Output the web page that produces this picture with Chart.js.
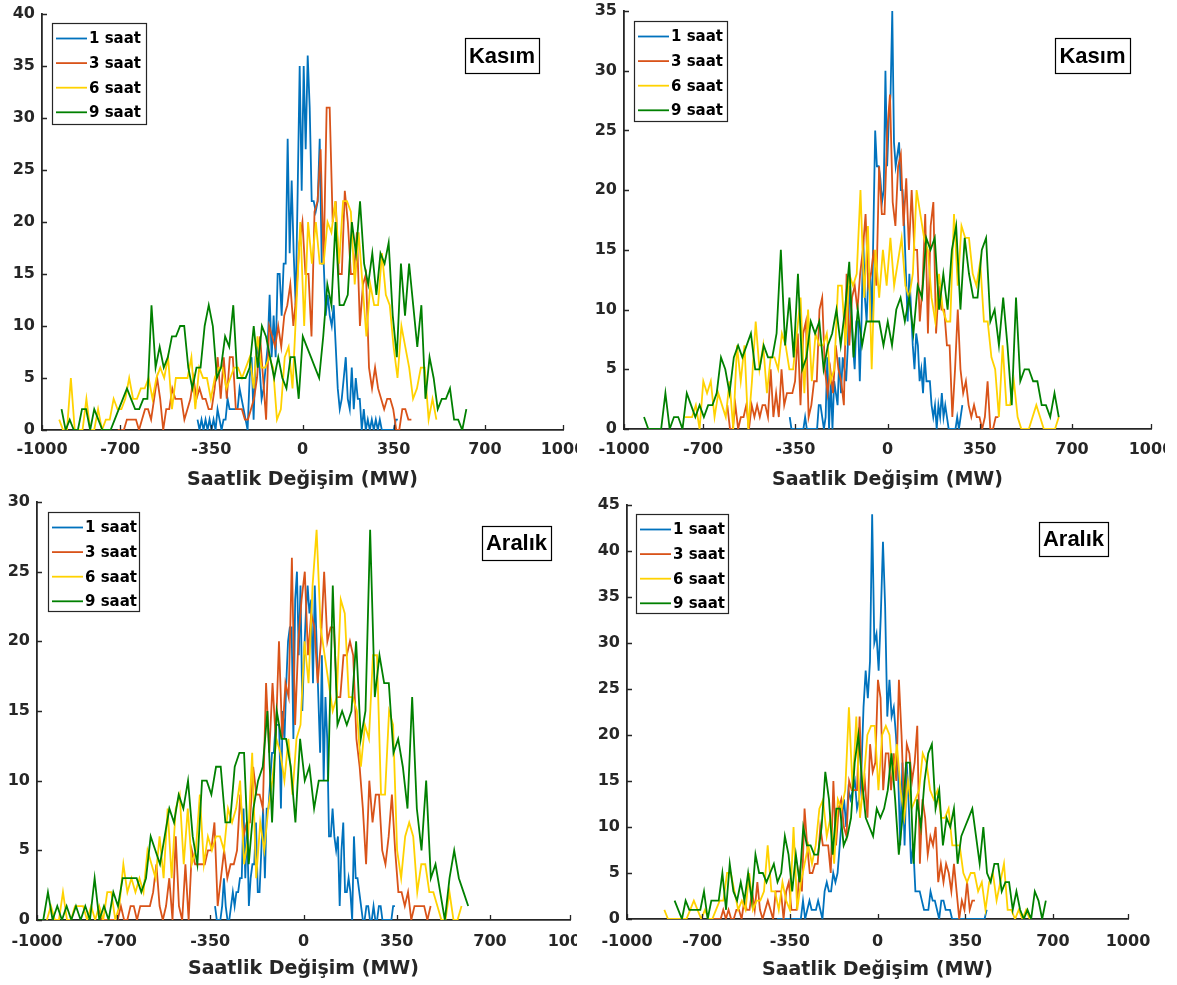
<!DOCTYPE html>
<html>
<head>
<meta charset="utf-8">
<script src="https://cdn.jsdelivr.net/npm/chart.js@4.4.1/dist/chart.umd.min.js"></script>
<style>
  body { margin: 0; background: #fff; width: 1177px; height: 985px; overflow: hidden; position: relative; }
  .panel { position: absolute; overflow: hidden; }
  .panel canvas { position: absolute; left: 0; top: 0; }
</style>
</head>
<body>
<div class="panel" style="left:0px;top:0px;width:577px;height:492px"><canvas id="c1"></canvas></div>
<div class="panel" style="left:580px;top:0px;width:585px;height:492px"><canvas id="c2"></canvas></div>
<div class="panel" style="left:0px;top:492px;width:577px;height:493px"><canvas id="c3"></canvas></div>
<div class="panel" style="left:580px;top:492px;width:597px;height:493px"><canvas id="c4"></canvas></div>
<script>
// --- data: histogram counts per series ---
const seriesLabels = ['1 saat', '3 saat', '6 saat', '9 saat'];
const xTicks = [-1000, -700, -350, 0, 350, 700, 1000];

// Kasım (top left) - [first bin, last bin] in MW
const tlRanges = [[-403, 366], [-709, 418], [-934, 514], [-925, 629]];
const tl1 = [1,0,1,0,1,0,1,0,1,0, 2,1,0,1,1,3,2,2,2,2, 2,4,3,2,1,0,5,7,1,7, 8,6,3,4,6,8,13,7,11,7,
  15,15,11,16,16,28,17,24,17,12, 23,
  35,23,35,27,36,31,22,22,21,22, 28,16,16,11,13,11,10,12,8,4, 2,3,5,7,3,2,6,2,5,3,
  3,0,2,0,1,0,1,0,1,0, 1,0,0,0,0,0,0,0,1,1];
const tl3 = [0,0,0,1,1,1,1,0,1,2, 2,1,3,5,3,0,2,2,4,3, 3,3,1,2,3,5,3,4,3,3, 2,2,4,7,3,7,3,7,7,2,
  2,2,1,1,2,3,5,9,5,1, 10,9,8,10,8,11,12,14,10,13, 18,
  20,15,15,9,21,22,27,16,31,31, 20,22,15,15,23,20,15,15,19,10, 14,15,6,4,6,4,3,2,3,3,
  2,0,0,2,2,1,1];
const tl6 = [1,0,0,5,0,0,0,3,0,0, 2,0,1,1,3,2,2,3,5,3, 3,4,4,5,3,5,6,5,7,2, 5,5,5,5,7,2,6,5,5,3,
  5,6,6,4,5,6,6,5,6,7, 4,9,6,6,7,6,1,2,7,8, 4,12,
  20,10,20,16,20,16,16,20,19,22, 16,22,22,21,14,19,14,9,14,12, 12,17,13,12,8,5,10,8,6,3,
  4,6,6,1,3,1];
const tl9 = [2,0,1,0,0,2,2,0,2,1, 0,0,0,1,2,3,4,3,2,2, 3,3,12,6,8,6,7,9,9,10, 10,6,4,6,6,10,12,10,5,6,
  9,8,12,5,5,5,6,10,6,10, 9,7,5,7,5,4,7,7,3,
  9,8,7,6,5,9,14,12,20,12, 12,13,20,17,22,16,14,17,13,17, 16,18,11,7,16,11,16,12,8,12,
  3,7,5,2,3,3,4,1,1,0, 2];

// Kasım (top right)
const trRanges = [[-371, 284], [-608, 421], [-770, 650], [-924, 650]];
const tr1 = [1,0,0,0,0,0,0,0,0,1, 0,0,0,0,0,0,0,2,2,1, 0,1,6,0,4,0,4,3,2,6, 3,6,5,4,7,12,10,7,5,9,
  9,4,9,16,11,9,13,13,9,17, 25,22,22,21,19,20,30,22, 26,28,35,24,22,23,
  24,20,20,17,13,9,13,10,7,5, 8,7,4,5,3,6,4,4,4,2, 1,2,0,2,1,3,1,2,1,0, 0,0,0,0,1,0,1,2];
const tr3 = [2,0,0,2,0,1,1,2,0,2, 1,2,1,2,2,1,5,1,3,1, 5,2,3,3,3,4,8,2,8,9, 1,2,4,4,10,11,5,3,5,3,
  7,5,4,2,13,7,11,12,10,13, 15,18,12,13,15,12,22,18,18, 25,28,19,17,
  22,23,17,21,15,20,15,15,9,12, 18,8,17,19,8,12,10,10,7,7, 1,5,10,5,3,4,2,1,2,1,
  1,0,1,4,0,0,1,1];
const tr6 = [1,1,1,2,0,4,3,4,1,3, 2,1,4,0,7,4,7,0,4,9, 5,7,3,6,6,5,8,7,5,5, 8,11,3,10,4,8,7,7,8,4,
  5,12,12,7,13,12,13,20,11,17, 5,15,11,15,12, 16,12,14,
  16,12,11,13,20,18,16,15,11,9, 13,10,9,9,18,12,17,16,16,13, 12,14,9,9,6,5,1,7,2,2,
  4,1,0,0,0,1,2,1,0,0, 0,0,1];
const tr9 = [1,0,0,0,0,3,0,1,1,0, 3,2,1,2,1,2,2,3,6,5, 3,6,7,6,7,8,5,5,7,6, 6,8,15,7,11,6,13,5,6,9,
  8,9,5,7,8,10,7,10,14,6, 10,7,9,9,9,9,7,9,7,10,
  11,9,11,8,12,11,16,15,16,10, 13,10,15,17,10,16,13,11,11,15, 16,9,10,7,11,7,2,11,4,5,
  5,4,4,2,2,1,3,1];

// Aralık (bottom left)
const blRanges = [[-332, 343], [-770, 477], [-963, 593], [-994, 618]];
const bl1 = [1,0,0,0,1,3,1,0,0,1, 2,1,2,2,3,3,8,3,7,1, 3,4,4,7,2,2,5,8,3,8, 8,10,12,12,14,14,14,8,15,13,
  17,20,21,21,
  13,23,25,19,24,15,19,22,24,22, 23,17,24,20,16,12,19,10,16,13, 6,6,8,6,5,6,1,5,7,2,
  2,3,2,0,6,3,3,2,1,0, 0,1,1,0,0,1,0,0,1,1, 0,0,0,0,0,0,1,1];
const bl3 = [1,0,0,0,0,0,0,1,0,0, 1,1,0,1,1,1,1,2,4,1, 0,1,3,0,6,1,0,4,0,5, 4,4,4,4,5,5,7,1,3,5,
  3,4,4,5,9,6,7,7,11,9, 9,8,17,12,17,13,20,13,17,16, 26,
  14,20,23,25,19,22,21,17,20,25, 20,21,21,16,16,19,19,20,19,13, 11,8,4,10,7,9,9,5,4,6,
  9,5,2,2,1,2,0,1,1,1, 1,0,1];
const bl6 = [0,1,0,0,2,0,0,1,1,1, 0,1,0,1,0,2,2,0,1,4, 2,3,2,3,2,5,4,3,6,3, 8,3,8,9,4,8,4,5,9,4,
  6,5,6,6,5,8,7,8,10,4, 6,12,3,7,5,8,10,13,12,10, 13,9,13,
  14,20,17,24,28,21,19,17,15,16, 23,22,16,16,15,11,14,13,19,19, 9,9,15,14,5,3,6,7,6,2,
  4,4,2,2,1,0,0,2,0,0, 1];
const bl9 = [0,0,2,0,1,0,1,0,1,0, 1,0,3,0,1,0,2,1,3,3, 3,3,2,3,6,5,4,6,8,7, 9,8,10,6,4,10,10,9,11,11,
  7,7,11,12,12,4,8,10,11,15, 7,15,13,13,11,7,13,
  10,11,8,10,10,10,24,14,15,14, 15,20,13,15,28,16,19,17,17,12, 13,11,8,16,8,5,10,3,4,2,
  0,3,5,3,2,1];

// Aralık (bottom right)
const brRanges = [[-401, 436], [-668, 389], [-851, 608], [-810, 672]];
const br1 = [0,0,0,0,0,0,0,0,0,0, 0,0,
  2,0,1,2,1,1,1,2,1,0, 3,4,3,3,5,4,5,8,11,13, 10,14,13,14,15,12,13,16,23,27,
  24,28,44,30,31,27,33,41,34,22, 26,22,23,20,16,8,17,8,17,12, 6,8,3,3,3,2,1,1,1,3,
  2,2,1,0,2,2,1,1,1,0, 0,0,0,0,0,0,0,0,0,0, 0,0,0,0,0,1];
const br3 = [0,0,0,0,0,1,0,1,0,0, 1,1,0,2,1,1,3,1,4,1, 0,1,2,1,0,3,3,3,0,3, 4,1,1,1,5,3,12,8,5,5,
  6,6,10,8,8,8,5,15,8,12, 13,10,9,15,14,14,14,22,13,15, 11,19,16,17,26,24,14,18, 18,14,18,
  15,26,20,12,19,18,15,17,21,6, 13,11,7,9,8,10,4,6,4,6, 5,3,6,3,0,2,1,4,1,2, 2];
const br6 = [1,0,0,0,0,0,0,1,2,1, 0,1,0,0,1,2,2,5,5,3, 1,2,1,5,1,2,2,3,8,3, 3,1,4,2,1,10,1,4,6,8,
  6,8,12,13,9,11,6,13,12,14, 23,14,22,11,15,20,21,21,14,20, 21,20,15,
  19,14,11,15,12,13,14,18,17,14, 13,14,11,11,12,8,8,8,5,4, 5,5,3,4,1,4,5,2,4,6,
  1,1,0,1,0,1,0];
const br9 = [2,1,0,2,1,1,1,1,3,0, 2,2,2,5,1,6,3,2,4,2, 5,2,7,5,5,4,5,6,4,5, 9,7,3,7,4,10,8,8,7,7,
  10,16,13,7,12,12,8,9,11,17, 20,15,11,10,9,12,11,12,14,18, 13,7,11,
  17,17,6,13,10,15,18,19,12,14, 8,11,10,12,6,9,10,11,12,9, 6,10,5,4,6,6,3,4,4,1,
  3,1,0,1,0,3,2,0,2];

const lineColors = ['#0072BD', '#D95319', '#FFD200', '#008000'];
const ink = '#262626';

// --- panel layout (page coordinates) ---
const panels = [
  { id: 'c1', left: 0, top: 0, w: 600, h: 492, area: [42, 14, 563, 430], yMax: 40,
    counts: [tl1, tl3, tl6, tl9], ranges: tlRanges, tag: 'Kasım',
    legendBox: [52, 23, 94, 101], tagBox: [465, 38, 74, 35], tickPad: 10, titlePad: 0.6 },
  { id: 'c2', left: 580, top: 0, w: 600, h: 492, area: [624, 11, 1151, 429], yMax: 35,
    counts: [tr1, tr3, tr6, tr9], ranges: trRanges, tag: 'Kasım',
    legendBox: [634, 21, 93, 100], tagBox: [1055, 38, 75, 35], tickPad: 11, titlePad: 0.6 },
  { id: 'c3', left: 0, top: 492, w: 600, h: 493, area: [37, 502, 570, 920], yMax: 30,
    counts: [bl1, bl3, bl6, bl9], ranges: blRanges, tag: 'Aralık',
    legendBox: [48, 512, 91, 99], tagBox: [482, 526, 69, 34], tickPad: 12, titlePad: 4.6 },
  { id: 'c4', left: 580, top: 492, w: 597, h: 493, area: [627, 505, 1128, 919], yMax: 45,
    counts: [br1, br3, br6, br9], ranges: brRanges, tag: 'Aralık',
    legendBox: [636, 514, 92, 99], tagBox: [1039, 522, 69, 34], tickPad: 13, titlePad: 3.6 }
];

function toPoints(range, counts) {
  const step = (range[1] - range[0]) / (counts.length - 1);
  return counts.map((c, i) => ({ x: range[0] + i * step, y: c }));
}

// inward ticks, legend box and month tag, drawn on top of the plot
const decorPlugin = {
  id: 'decor',
  afterDraw(chart, args, opts) {
    const ctx = chart.ctx;
    const { left, bottom } = chart.chartArea;
    const xs = chart.scales.x, ys = chart.scales.y;
    ctx.save();
    ctx.strokeStyle = ink;
    ctx.lineWidth = 1.3;
    ctx.beginPath();
    xs.ticks.forEach(t => {
      const px = Math.round(xs.getPixelForValue(t.value)) + 0.5;
      ctx.moveTo(px, bottom); ctx.lineTo(px, bottom - 5);
    });
    ys.ticks.forEach(t => {
      const py = Math.round(ys.getPixelForValue(t.value)) + 0.5;
      ctx.moveTo(left, py); ctx.lineTo(left + 5, py);
    });
    ctx.stroke();

    // legend
    const [lx, ly, lw, lh] = opts.legendBox;
    ctx.fillStyle = '#fff';
    ctx.fillRect(lx, ly, lw, lh);
    ctx.lineWidth = 1.2;
    ctx.strokeStyle = ink;
    ctx.strokeRect(lx + 0.5, ly + 0.5, lw, lh);
    ctx.font = 'bold 15px "DejaVu Sans"';
    ctx.textBaseline = 'middle';
    ctx.textAlign = 'left';
    chart.data.datasets.forEach((ds, i) => {
      const ry = ly + 15.5 + i * 24.6;
      ctx.strokeStyle = ds.borderColor;
      ctx.lineWidth = 1.8;
      ctx.beginPath();
      ctx.moveTo(lx + 4, ry); ctx.lineTo(lx + 35, ry);
      ctx.stroke();
      ctx.fillStyle = '#000';
      ctx.fillText(ds.label, lx + 37, ry + 1);
    });

    // month tag
    const [tx, ty, tw, th] = opts.tagBox;
    ctx.fillStyle = '#fff';
    ctx.fillRect(tx, ty, tw, th);
    ctx.strokeStyle = '#000';
    ctx.lineWidth = 1.2;
    ctx.strokeRect(tx + 0.5, ty + 0.5, tw, th);
    ctx.fillStyle = '#000';
    ctx.font = 'bold 22px "Liberation Sans", Arial';
    ctx.textAlign = 'center';
    ctx.fillText(opts.tag, tx + tw / 2, ty + th / 2 + 1);
    ctx.restore();
  }
};

panels.forEach(p => {
  const canvas = document.getElementById(p.id);
  canvas.width = p.w;
  canvas.height = p.h;
  const [x0, y0, x1, y1] = p.area;
  const yAxisW = x0 - p.left;
  const xAxisH = p.top + p.h - y1;
  const local = (b) => [b[0] - p.left, b[1] - p.top, b[2], b[3]];

  const datasets = p.counts.map((c, i) => ({
    label: seriesLabels[i],
    data: toPoints(p.ranges[i], c),
    borderColor: lineColors[i],
    borderWidth: 1.8,
    pointRadius: 0,
    tension: 0,
    fill: false,
    order: 3 - i
  }));

  const tickFont = { family: 'DejaVu Sans', weight: 'bold', size: 16 };

  new Chart(canvas, {
    type: 'line',
    data: { datasets },
    plugins: [decorPlugin],
    options: {
      responsive: false,
      animation: false,
      events: [],
      layout: { padding: { left: 0, top: y0 - p.top, right: p.left + p.w - x1, bottom: 0 } },
      plugins: {
        legend: { display: false },
        tooltip: { enabled: false },
        decor: { legendBox: local(p.legendBox), tagBox: local(p.tagBox), tag: p.tag }
      },
      scales: {
        x: {
          type: 'linear',
          min: -1000,
          max: 1000,
          afterBuildTicks: s => { s.ticks = xTicks.map(v => ({ value: v })); },
          afterFit: s => { s.height = xAxisH; s.paddingLeft = 0; s.paddingRight = 0; },
          grid: { display: false, drawTicks: false },
          border: { display: true, color: ink, width: 1.8 },
          ticks: {
            autoSkip: false, maxRotation: 0, padding: p.tickPad, color: ink, font: tickFont,
            callback: v => String(v)
          },
          title: {
            display: true,
            text: 'Saatlik Değişim (MW)',
            color: ink,
            font: { family: 'DejaVu Sans', weight: 'bold', size: 19 },
            padding: { top: 0, bottom: p.titlePad }
          }
        },
        y: {
          min: 0,
          max: p.yMax,
          afterFit: s => { s.width = yAxisW; s.paddingTop = 0; s.paddingBottom = 0; },
          grid: { display: false, drawTicks: false },
          border: { display: true, color: ink, width: 1.8 },
          ticks: { stepSize: 5, padding: 7, color: ink, font: tickFont, callback: v => String(v) }
        }
      }
    }
  });
});
</script>
</body>
</html>
